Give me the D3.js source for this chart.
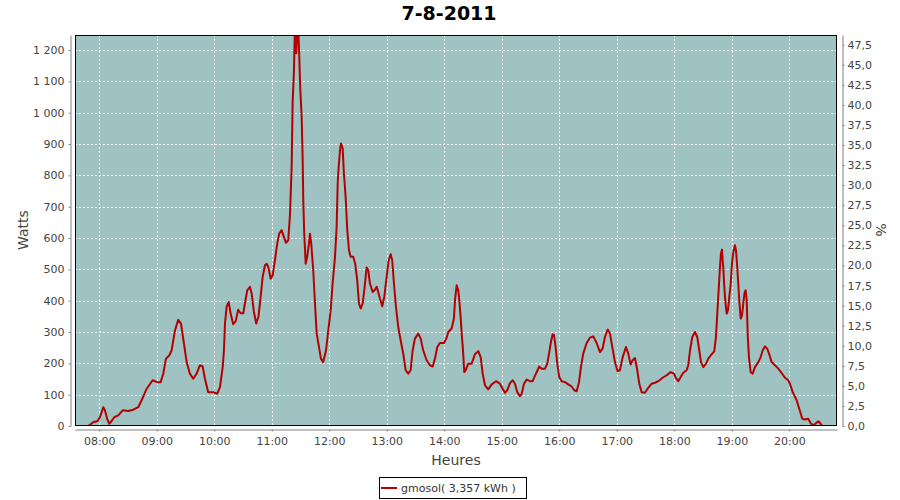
<!DOCTYPE html>
<html>
<head>
<meta charset="utf-8">
<script src="https://cdn.jsdelivr.net/npm/d3@7"></script>
<style>
  html, body { margin: 0; padding: 0; background: #ffffff; }
  svg { display: block; }
</style>
</head>
<body>
<svg id="chart" width="900" height="500"></svg>
<script>
// ---- Data ----
const chartTitle = "7-8-2011";
const seriesName = "gmosol( 3,357 kWh )";
// time of day in minutes since midnight
const minutes = [454.7,468.5,473.7,478.3,480.7,484.2,485.9,488.3,490.4,492.9,495.7,499.8,504.4,510.3,515.5,520.7,524.2,529.5,535.7,540.5,544.1,546.8,549.6,553.0,555.5,559.0,562.4,565.3,568.4,571.2,574.6,578.1,581.6,585.1,587.9,590.3,593.7,599.0,603.1,606.0,608.8,610.1,611.2,612.9,615.0,617.1,619.8,622.3,625.0,627.5,630.3,632.0,634.4,637.3,639.0,641.4,643.8,646.1,648.4,650.5,652.9,654.7,656.3,658.9,660.9,663.3,665.7,667.8,670.3,672.7,674.8,677.2,679.0,680.8,681.8,683.2,684.2,685.6,687.1,688.7,689.7,691.2,692.2,692.9,693.9,695.4,697.0,698.8,699.9,701.2,703.3,705.1,706.9,709.3,711.3,713.7,716.6,719.0,721.5,723.5,726.0,727.7,728.8,729.8,731.2,732.2,734.0,735.3,737.1,738.8,740.6,742.3,745.0,747.1,749.2,751.0,752.8,754.9,757.3,759.0,760.7,762.5,765.3,767.7,769.5,771.1,772.9,775.3,777.4,779.9,782.0,784.1,785.7,787.5,789.6,792.0,794.5,797.2,799.7,802.4,804.9,807.0,809.4,812.9,815.4,818.1,821.6,825.1,827.9,830.3,832.7,835.5,839.7,842.3,844.2,847.7,850.1,851.2,852.9,854.6,855.7,857.1,858.2,859.8,860.9,862.6,865.0,868.6,872.0,875.5,878.0,880.1,882.5,885.9,889.5,894.0,898.1,900.9,903.3,905.7,908.6,911.4,913.8,916.2,919.0,920.8,923.2,926.0,929.4,932.2,935.7,939.1,941.6,945.1,947.5,949.6,951.3,953.1,954.5,956.2,957.9,960.0,962.5,966.0,969.4,972.9,975.7,978.2,980.6,982.6,985.0,988.6,992.0,995.5,999.0,1002.5,1005.3,1007.7,1010.5,1012.9,1015.7,1018.1,1020.9,1023.3,1026.2,1029.6,1032.0,1034.5,1036.6,1039.0,1041.4,1043.5,1046.0,1049.4,1052.9,1056.4,1059.9,1063.3,1067.9,1072.1,1076.2,1079.7,1081.8,1084.2,1087.0,1089.4,1092.9,1094.6,1096.4,1098.8,1101.6,1104.0,1106.1,1107.9,1110.3,1113.1,1115.5,1119.0,1121.7,1123.5,1125.3,1126.6,1127.7,1128.7,1129.8,1130.5,1131.1,1132.2,1133.2,1134.7,1136.0,1137.4,1138.9,1140.2,1141.6,1143.3,1144.4,1145.7,1146.8,1147.8,1149.3,1150.7,1152.0,1153.5,1154.5,1155.6,1156.6,1157.9,1159.7,1161.8,1164.2,1167.7,1170.2,1172.2,1174.6,1177.0,1179.1,1181.6,1185.1,1188.5,1192.1,1195.5,1199.0,1200.7,1203.6,1207.7,1210.4,1213.6,1216.4,1219.8,1222.3,1225.0,1227.9,1230.3,1232.8,1234.4,1249.8];
const watts = [0,0,12,16,28,60,50,23,7,16,28,34,50,48,52,60,82,119,146,140,140,167,215,225,241,305,339,327,263,204,167,151,167,194,190,151,108,108,103,124,188,241,327,380,396,359,325,334,371,360,360,391,433,444,423,364,327,348,412,476,513,518,508,470,481,529,582,614,625,603,585,593,673,832,1035,1136,1280,1190,1310,1180,1080,987,859,720,614,518,540,582,614,582,497,391,295,252,215,204,241,305,369,454,540,635,774,827,880,902,886,806,731,625,561,540,540,518,465,391,375,391,454,506,497,454,428,435,444,428,407,382,412,476,529,548,529,454,380,316,273,231,178,167,178,241,279,295,279,241,210,194,190,215,252,265,265,280,300,311,343,401,449,433,401,348,295,231,172,180,199,199,229,239,220,167,130,117,133,143,135,119,106,114,137,146,135,108,95,103,135,148,143,143,167,190,183,183,199,236,268,293,290,252,199,156,143,140,133,126,114,111,140,188,231,265,282,286,265,236,248,284,308,295,246,204,175,178,220,252,231,196,210,217,178,135,108,106,122,135,138,143,154,162,172,167,153,143,158,170,178,194,241,284,300,284,241,204,188,199,215,229,238,284,382,449,508,550,563,529,508,444,401,359,369,412,454,518,555,577,561,508,454,401,343,353,391,428,433,401,295,220,172,167,188,204,220,241,254,247,229,204,194,183,169,154,146,135,108,82,55,23,21,23,9,2,9,15,7,0,0];

const leftTicks = [0,100,200,300,400,500,600,700,800,900,1000,1100,1200];
const rightTicks = [0,2.5,5,7.5,10,12.5,15,17.5,20,22.5,25,27.5,30,32.5,35,37.5,40,42.5,45,47.5];
const hourTicks = [480,540,600,660,720,780,840,900,960,1020,1080,1140,1200];
const hourLabels = ["08:00","09:00","10:00","11:00","12:00","13:00","14:00","15:00","16:00","17:00","18:00","19:00","20:00"];

// ---- Layout ----
const plot = { left: 75, right: 837, top: 35, bottom: 426 };
const svg = d3.select("#chart");
const FONT = "'DejaVu Sans', sans-serif";
const TICK_COLOR = "#444444";
const AXIS_COLOR = "#808080";

const locale = d3.formatLocale({ decimal: ",", thousands: " ", grouping: [3], currency: ["", " €"] });
const fmtLeft = locale.format(",.0f");
const fmtRight = locale.format(".1f");

const x = d3.scaleLinear().domain([454.7, 1249.8]).range([plot.left, plot.right]);
const y = d3.scaleLinear().domain([0, 1248]).range([plot.bottom, plot.top]);
const y2 = d3.scaleLinear().domain([0, 48.7]).range([plot.bottom, plot.top]);

// background
svg.append("rect").attr("x", 0).attr("y", 0).attr("width", 900).attr("height", 500).attr("fill", "#ffffff");

// plot background
svg.append("rect")
  .attr("x", plot.left).attr("y", plot.top)
  .attr("width", plot.right - plot.left).attr("height", plot.bottom - plot.top)
  .attr("fill", "#9ec3c2");

// gridlines
const grid = svg.append("g").attr("stroke", "#ffffff").attr("stroke-width", 1).attr("stroke-dasharray", "2,2");
grid.selectAll("line.h").data(leftTicks.filter(d => d > 0)).join("line")
  .attr("x1", plot.left).attr("x2", plot.right)
  .attr("y1", d => Math.round(y(d)) + 0.5).attr("y2", d => Math.round(y(d)) + 0.5);
grid.selectAll("line.v").data(hourTicks).join("line")
  .attr("y1", plot.top).attr("y2", plot.bottom)
  .attr("x1", d => Math.round(x(d)) + 0.5).attr("x2", d => Math.round(x(d)) + 0.5);

// clip
svg.append("clipPath").attr("id", "clip").append("rect")
  .attr("x", plot.left).attr("y", plot.top)
  .attr("width", plot.right - plot.left).attr("height", plot.bottom - plot.top);

const pts = minutes.map((m, i) => [m, watts[i]]);
const line = d3.line().x(d => x(d[0])).y(d => y(d[1])).curve(d3.curveLinear);
svg.append("path")
  .attr("clip-path", "url(#clip)")
  .attr("d", line(pts))
  .attr("fill", "none")
  .attr("stroke", "#b40000")
  .attr("stroke-width", 2)
  .attr("stroke-linejoin", "round");

// plot border
svg.append("rect")
  .attr("x", plot.left + 0.5).attr("y", plot.top + 0.5)
  .attr("width", plot.right - plot.left - 1).attr("height", plot.bottom - plot.top - 1)
  .attr("fill", "none").attr("stroke", "#000000").attr("stroke-width", 1);

function styleAxis(g) {
  g.attr("font-family", FONT).attr("font-size", 11);
  g.selectAll("path.domain").attr("stroke", AXIS_COLOR);
  g.selectAll(".tick line").attr("stroke", AXIS_COLOR);
  g.selectAll(".tick text").attr("fill", TICK_COLOR);
}

// left axis
const gl = svg.append("g").attr("transform", "translate(70.5,0)")
  .call(d3.axisLeft(y).tickValues(leftTicks).tickFormat(fmtLeft).tickSize(2).tickSizeOuter(0).tickPadding(4));
styleAxis(gl);

// right axis
const gr = svg.append("g").attr("transform", "translate(842.5,0)")
  .call(d3.axisRight(y2).tickValues(rightTicks).tickFormat(fmtRight).tickSize(2).tickSizeOuter(0).tickPadding(3));
styleAxis(gr);

// bottom axis
const gb = svg.append("g").attr("transform", "translate(0,429.5)")
  .call(d3.axisBottom(x).tickValues(hourTicks).tickFormat((d, i) => hourLabels[i]).tickSize(2).tickSizeOuter(0).tickPadding(6));
styleAxis(gb);

// title
svg.append("text")
  .attr("x", 449).attr("y", 20)
  .attr("text-anchor", "middle")
  .attr("font-family", FONT).attr("font-weight", "bold").attr("font-size", 19)
  .attr("fill", "#000000")
  .text(chartTitle);

// axis titles
svg.append("text")
  .attr("transform", "translate(28,230) rotate(-90)")
  .attr("text-anchor", "middle")
  .attr("font-family", FONT).attr("font-size", 14).attr("fill", "#444444")
  .text("Watts");
svg.append("text")
  .attr("transform", "translate(876,230) rotate(90)")
  .attr("text-anchor", "middle")
  .attr("font-family", FONT).attr("font-size", 14).attr("fill", "#444444")
  .text("%");
svg.append("text")
  .attr("x", 456).attr("y", 465)
  .attr("text-anchor", "middle")
  .attr("font-family", FONT).attr("font-size", 14).attr("fill", "#444444")
  .text("Heures");

// legend
const lg = svg.append("g");
lg.append("rect").attr("x", 379.5).attr("y", 477.5).attr("width", 147).attr("height", 21)
  .attr("fill", "#ffffff").attr("stroke", "#000000").attr("stroke-width", 1);
lg.append("line").attr("x1", 381).attr("x2", 397).attr("y1", 488).attr("y2", 488)
  .attr("stroke", "#b40000").attr("stroke-width", 2);
lg.append("text").attr("x", 401).attr("y", 492)
  .attr("font-family", FONT).attr("font-size", 11).attr("fill", "#333333")
  .text(seriesName);
</script>
</body>
</html>
